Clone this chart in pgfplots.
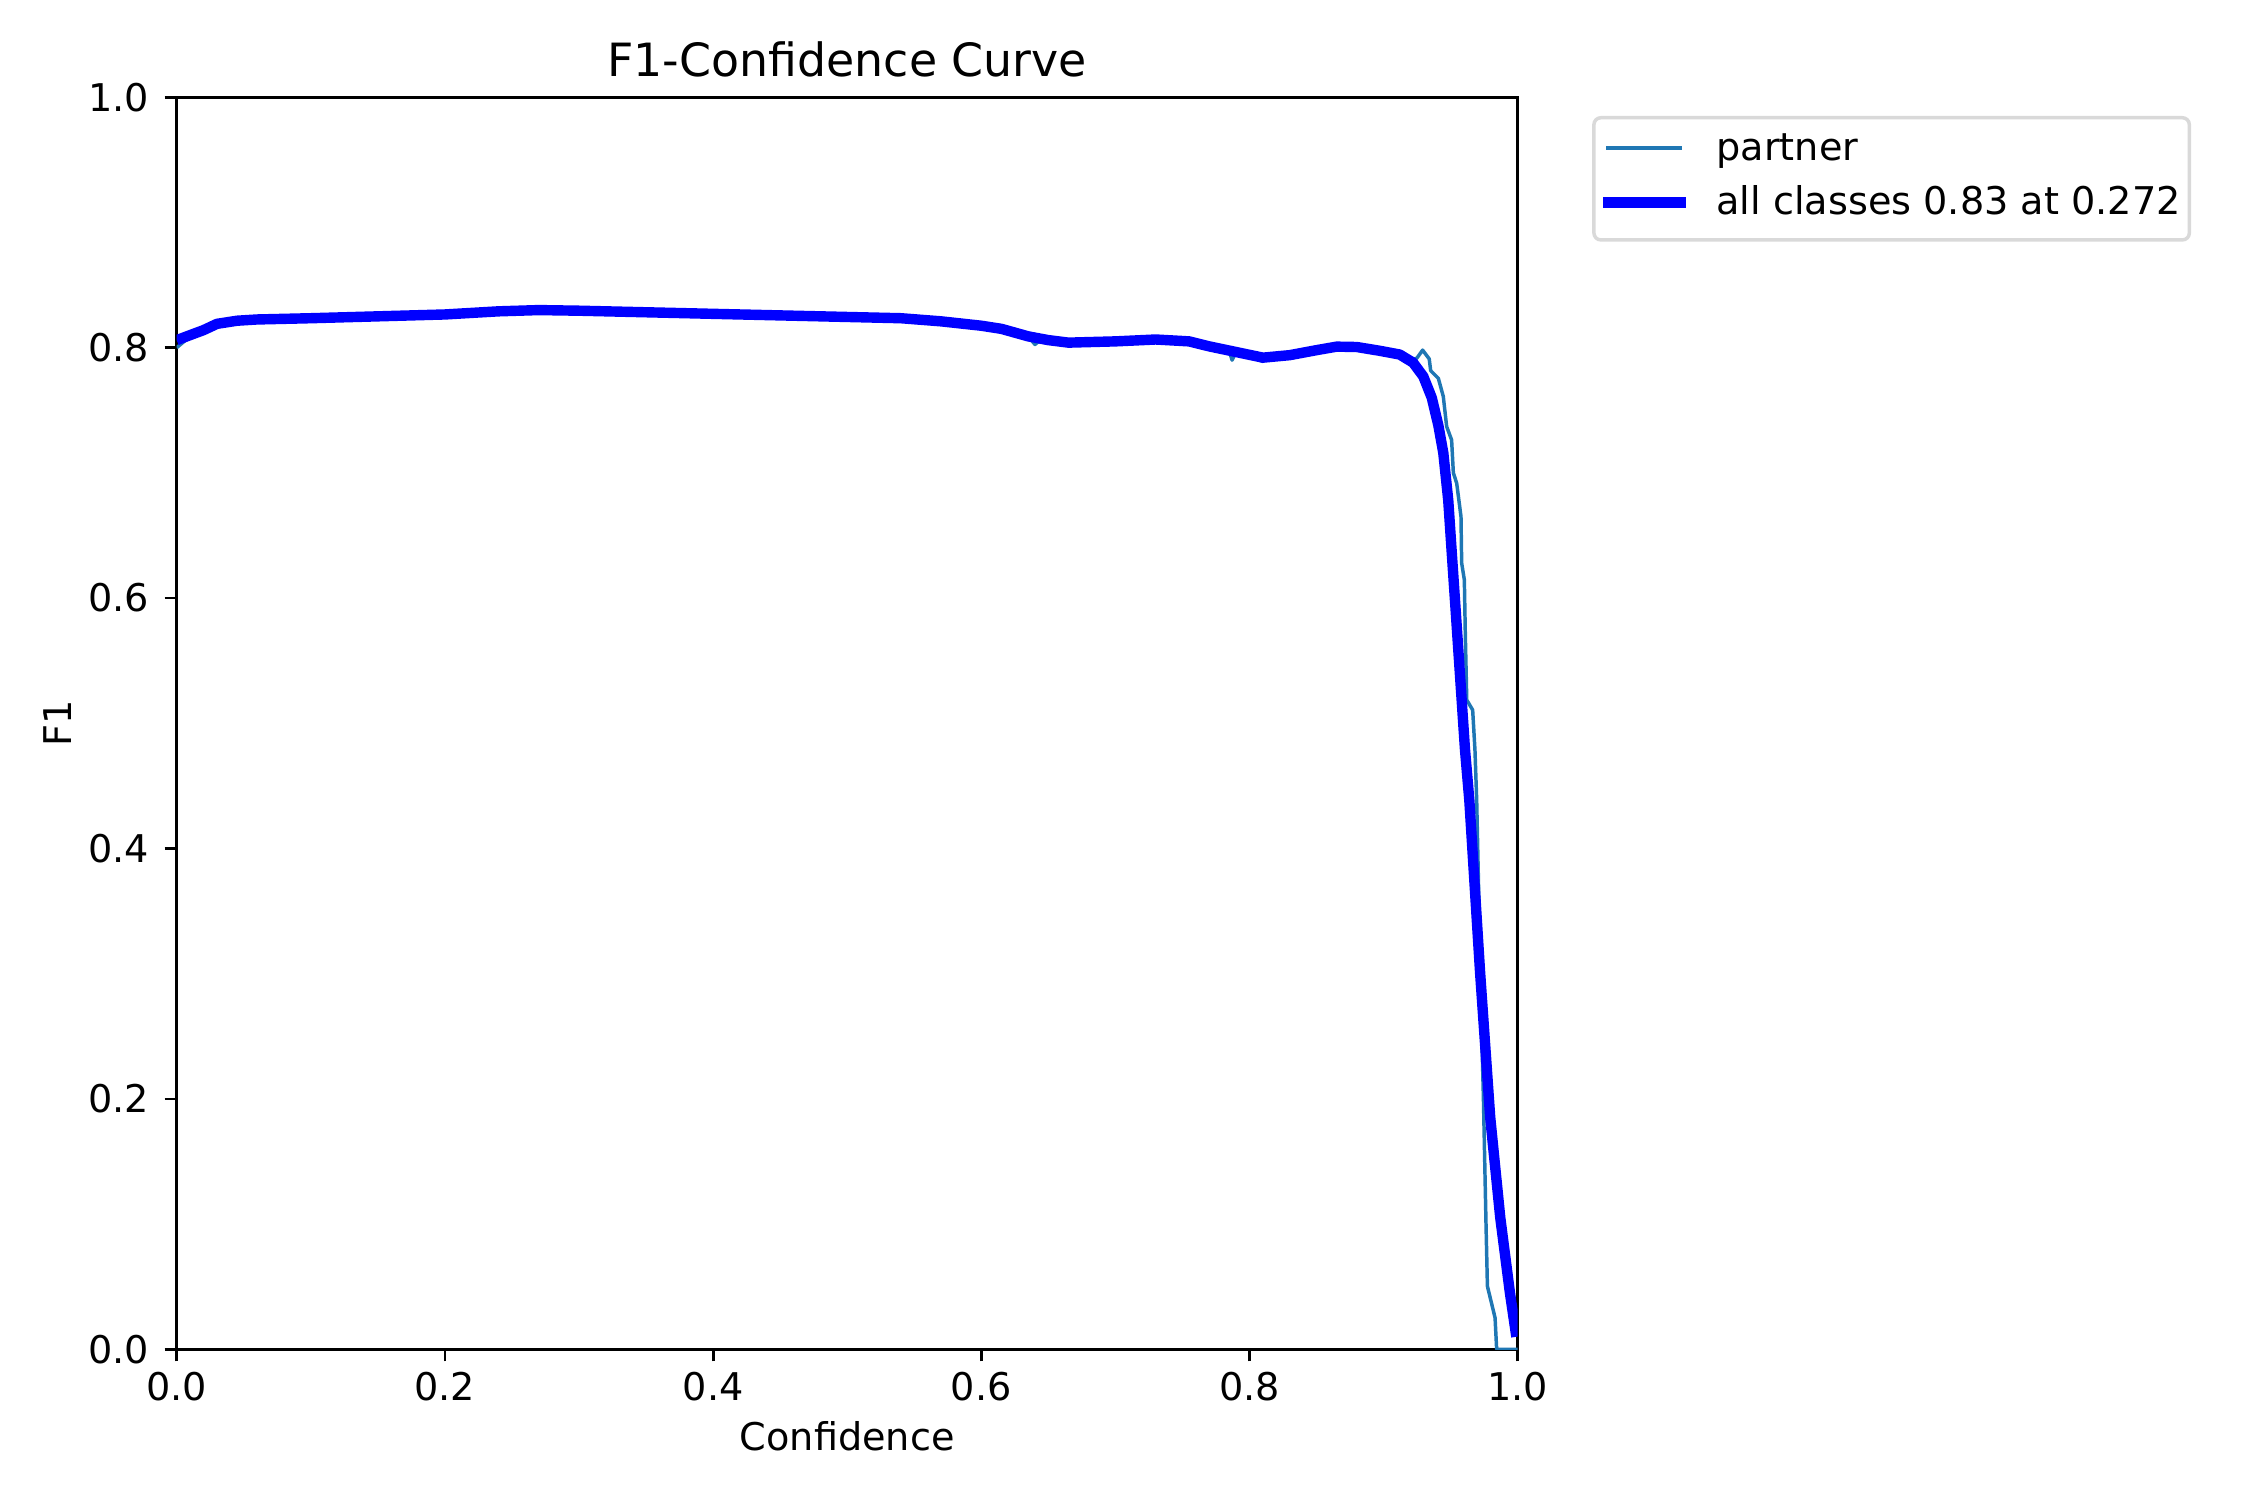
\documentclass[border=0pt]{standalone}
\usepackage{fontspec}
\setmainfont{DejaVu Sans}
\usepackage{pgfplots}
\pgfplotsset{compat=1.18}
\definecolor{tabblue}{RGB}{31,119,180}
\begin{document}
\begin{tikzpicture}
\useasboundingbox (0,0) rectangle (648pt,432pt);
\begin{axis}[
  at={(50.9pt,43.4pt)}, anchor=south west,
  scale only axis, width=386.2pt, height=360.6pt,
  xmin=0, xmax=1, ymin=0, ymax=1,
  xtick={0,0.2,0.4,0.6,0.8,1.0},
  ytick={0,0.2,0.4,0.6,0.8,1.0},
  /pgf/number format/assume math mode=true,
  xticklabel={\pgfmathprintnumber[fixed,fixed zerofill,precision=1]{\tick}},
  yticklabel={\pgfmathprintnumber[fixed,fixed zerofill,precision=1]{\tick}},
  tick label style={font=\fontsize{11}{13}\selectfont},
  xticklabel style={anchor=base, yshift=-11.1pt},
  yticklabel style={xshift=-0.9pt},
  tick align=outside, tick pos=left,
  major tick length=3.5pt,
  every tick/.style={black, line width=0.8pt},
  axis line style={line width=0.8pt},
  title={F1-Confidence Curve},
  title style={font=\fontsize{13.2}{15}\selectfont, at={(axis description cs:0.5,1)}, anchor=base},
  xlabel={Confidence},
  xlabel style={font=\fontsize{11}{13}\selectfont, at={(axis description cs:0.5,-0.081)}, anchor=base},
  ylabel={F1},
  ylabel style={font=\fontsize{11}{13}\selectfont, at={(axis description cs:-0.0785,0.5)}, anchor=base, rotate=0},
  legend style={
    at={(axis description cs:1.04,1)}, anchor=north west, xshift=6pt, yshift=-5.4pt,
    draw=black!15, line width=1pt, rounded corners=2pt, fill=white,
    font=\fontsize{11}{13}\selectfont,
    inner xsep=2.5pt, inner ysep=4.2pt,
    nodes={inner sep=0pt, text height=8pt, text depth=3.1pt},
    /tikz/row sep=4.6pt, /tikz/column sep=8.8pt,
  },
  legend cell align=left,
  legend image code/.code={\path (0pt,-1pt); \draw[#1,line cap=rect] (0pt,1pt) -- (21pt,1pt);},
]
\addplot[tabblue, line width=1pt, line join=round] coordinates {
(0,0.800) (0.01,0.809) (0.02,0.814) (0.03,0.819) (0.045,0.8215) (0.06,0.8225)
(0.1,0.8235) (0.15,0.825) (0.2,0.8265) (0.24,0.829) (0.27,0.830) (0.3,0.8295)
(0.4,0.827) (0.5,0.8245) (0.54,0.8235) (0.57,0.821) (0.6,0.8175) (0.615,0.815)
(0.635,0.809) (0.64,0.8025) (0.645,0.807) (0.65,0.806) (0.665,0.804) (0.7,0.805) (0.73,0.8065)
(0.755,0.805) (0.77,0.801) (0.785,0.797) (0.787,0.790) (0.79,0.7965) (0.81,0.789) (0.812,0.792) (0.83,0.794)
(0.85,0.798) (0.865,0.8008) (0.88,0.8005) (0.897,0.7975) (0.912,0.7945) (0.92,0.790)
(0.9247,0.7915) (0.9291,0.798) (0.934,0.791) (0.9351,0.7816) (0.9408,0.7755)
(0.9445,0.761) (0.947,0.737) (0.9507,0.7263) (0.952,0.700) (0.9545,0.6917)
(0.9577,0.665) (0.9582,0.628) (0.9602,0.6145) (0.9609,0.572) (0.962,0.5186)
(0.9664,0.5106) (0.9681,0.479) (0.9694,0.4387) (0.9731,0.255) (0.9744,0.2016)
(0.9764,0.0978) (0.9774,0.0504) (0.9831,0.0252) (0.9843,0.0) (1.0,0.0)
};
\addlegendentry{partner}
\addplot[blue, line width=3pt, line join=round] coordinates {
(0,0.806) (0.01,0.810) (0.02,0.814) (0.03,0.819) (0.045,0.8215) (0.06,0.8225)
(0.1,0.8235) (0.15,0.825) (0.2,0.8265) (0.24,0.829) (0.27,0.830) (0.3,0.8295)
(0.4,0.827) (0.5,0.8245) (0.54,0.8235) (0.57,0.821) (0.6,0.8175) (0.615,0.815)
(0.635,0.809) (0.65,0.806) (0.665,0.804) (0.7,0.805) (0.73,0.8065) (0.755,0.805)
(0.77,0.801) (0.79,0.7965) (0.81,0.792) (0.83,0.794) (0.85,0.798) (0.865,0.8008)
(0.88,0.8005) (0.897,0.7975) (0.912,0.7945) (0.922,0.788) (0.9296,0.777)
(0.9359,0.760) (0.9408,0.738) (0.9445,0.716) (0.9482,0.678) (0.9507,0.638)
(0.9532,0.5985) (0.9557,0.5585) (0.9582,0.5186) (0.9607,0.4787) (0.9639,0.4387)
(0.972,0.300) (0.9795,0.185) (0.987,0.105) (0.9942,0.045) (0.999,0.010)
};
\addlegendentry{all classes 0.83 at 0.272\hspace{1.7pt}}
\end{axis}
\end{tikzpicture}
\end{document}
